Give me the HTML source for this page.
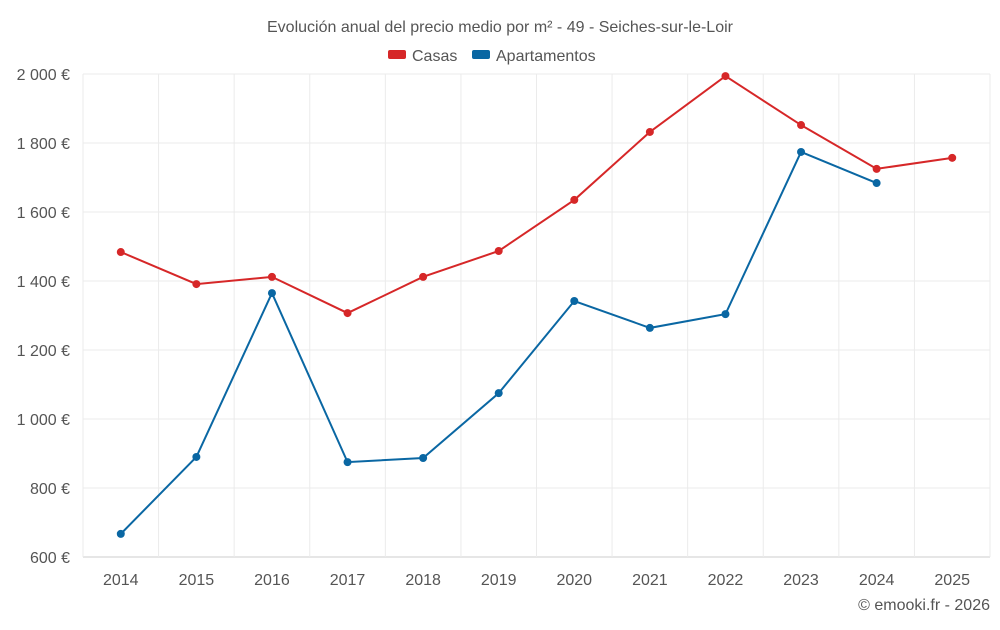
<!DOCTYPE html>
<html><head><meta charset="utf-8"><style>
body{margin:0;background:#fff;font-family:"Liberation Sans",sans-serif;}
svg text{font-family:"Liberation Sans",sans-serif;fill:#555;}
</style></head><body>
<svg width="1000" height="625" viewBox="0 0 1000 625">
<text x="500" y="32" text-anchor="middle" font-size="16">Evolución anual del precio medio por m² - 49 - Seiches-sur-le-Loir</text>
<g>
<g><rect x="388" y="50" width="18" height="9" rx="2" fill="#d62728"/><text x="412" y="61" font-size="16">Casas</text></g>
<g><rect x="472" y="50" width="18" height="9" rx="2" fill="#0a67a3"/><text x="496" y="61" font-size="16">Apartamentos</text></g>
</g>
<g id="grid"></g><g id="axes"></g><g id="series"></g>
<text x="990" y="610" text-anchor="end" font-size="16">© emooki.fr - 2026</text>
</svg>
<script>
const years=[2014,2015,2016,2017,2018,2019,2020,2021,2022,2023,2024,2025];
const casas=[1484,1391,1412,1307,1412,1487,1635,1832,1994,1852,1725,1757];
const apartamentos=[667,890,1365,875,887,1075,1342,1264,1304,1774,1684,null];
const yTicks=[600,800,1000,1200,1400,1600,1800,2000];
const yTickLabels=["600 €","800 €","1 000 €","1 200 €","1 400 €","1 600 €","1 800 €","2 000 €"];
const L=83,R=990,T=74,B=557,yMin=600,yMax=2000;
const bw=(R-L)/years.length;
const x=i=>L+bw*(i+0.5);
const y=v=>B-(v-yMin)/(yMax-yMin)*(B-T);
const NS="http://www.w3.org/2000/svg";
function mk(tag,attrs,parent){const e=document.createElementNS(NS,tag);for(const k in attrs)e.setAttribute(k,attrs[k]);parent.appendChild(e);return e;}
const grid=document.getElementById('grid'),axes=document.getElementById('axes'),ser=document.getElementById('series');
yTicks.forEach((t,i)=>{
 const l=mk('line',{x1:L,x2:R,y1:y(t),y2:y(t),stroke:i==0?'#ccc':'#ebebeb'},grid);
 
 
 const tx=mk('text',{x:70,y:y(t)+6,'text-anchor':'end','font-size':16},axes);
 tx.textContent=yTickLabels[i];
 
 
});
for(let i=0;i<=years.length;i++){
 const l=mk('line',{x1:L+bw*i,x2:L+bw*i,y1:T,y2:B,stroke:'#ebebeb'},grid);
 
 
}
years.forEach((yr,i)=>{
 const tx=mk('text',{x:x(i),y:585,'text-anchor':'middle','font-size':16},axes);
 tx.textContent=yr;
 
 
});
function draw(vals,color,name){
 let d='';vals.forEach((v,i)=>{if(v==null)return;d+=(d?'L':'M')+x(i)+','+y(v);});
 const p=mk('path',{d:d,fill:'none',stroke:color,'stroke-width':2},ser);
 
 
 vals.forEach((v,i)=>{if(v==null)return;
  const c=mk('circle',{cx:x(i),cy:y(v),r:4,fill:color},ser);
  
  
 });
}
draw(casas,'#d62728','casas');
draw(apartamentos,'#0a67a3','apartamentos');
</script>
</body></html>
